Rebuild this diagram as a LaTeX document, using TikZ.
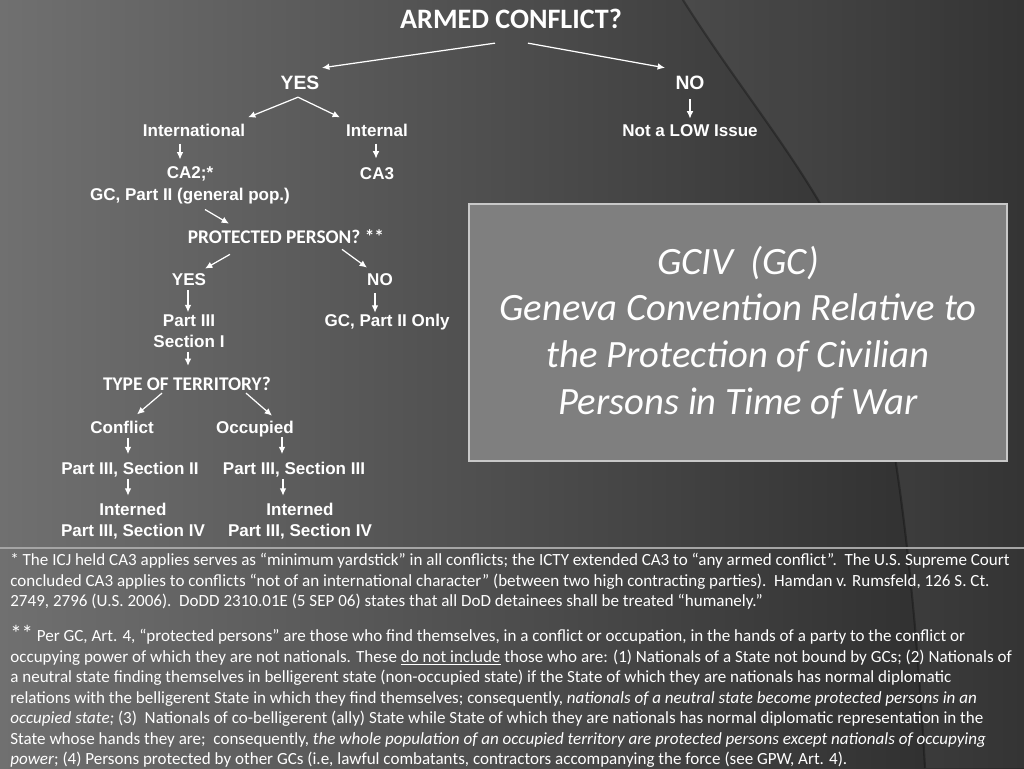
\documentclass[tikz,border=0pt]{standalone}
\usepackage{fontspec}
\setmainfont{Carlito}
\newfontfamily\lsans{Liberation Sans}
\usetikzlibrary{arrows.meta}
\definecolor{bgleft}{RGB}{112,112,112}
\definecolor{bgright}{RGB}{42,42,42}
\definecolor{boxfill}{RGB}{127,127,127}
\definecolor{boxline}{RGB}{200,200,200}
\definecolor{ruleline}{RGB}{165,165,165}

\begin{document}
\begin{tikzpicture}[x=0.02cm, y=-0.02cm,
    lbl/.style={text=white, inner sep=0pt, align=center,
        font=\lsans\bfseries\fontsize{9.7}{11.9}\selectfont},
    yesno/.style={text=white, inner sep=0pt,
        font=\lsans\bfseries\fontsize{11}{13}\selectfont},
    question/.style={text=white, inner sep=0pt,
        font=\bfseries\fontsize{11}{13}\selectfont},
    arr/.style={white, line width=0.7pt, -{Latex[length=4.2pt,width=3.8pt]}},
    note/.style={text=white, inner sep=0pt, align=left, anchor=north west,
        font=\fontsize{9.7}{11.7}\selectfont}
]
    \useasboundingbox (0,0) rectangle (1024,768);

    % background
    \shade[left color=bgleft, right color=bgright] (0,0) rectangle (1024,768);
    \fill[white, opacity=0.05] (683,0) .. controls (740,90) and (800,160) .. (840,240)
        .. controls (880,330) and (910,500) .. (925,768)
        -- (1024,768) -- (1024,0) -- cycle;
    \draw[black, opacity=0.3, line width=1.2pt] (683,0) .. controls (740,90) and (800,160) .. (840,240)
        .. controls (880,330) and (910,500) .. (925,768);
    \draw[ruleline, line width=1pt] (0,548) -- (1024,548);

    % top of the tree
    \node[text=white, inner sep=0pt, font=\bfseries\fontsize{16}{19}\selectfont] (armed) at (511,19) {ARMED CONFLICT?};
    \node[yesno] (yes1) at (300,83) {YES};
    \node[yesno] (no1) at (690,83) {NO};
    \node[lbl] (nolow) at (690,131) {Not a LOW Issue};
    \node[lbl] (intl) at (194,130) {International};
    \node[lbl] (intn) at (377,130) {Internal};
    \node[lbl] (ca2) at (190,185.5) {CA2;*\\[0.5pt]GC, Part II (general pop.)};
    \node[lbl] (ca3) at (377,174) {CA3};

    % protected person
    \node[question] (prot) at (286,237) {PROTECTED PERSON? **};
    \node[lbl] (yes2) at (189,280) {YES};
    \node[lbl] (no2) at (380,280) {NO};
    \node[lbl] (sec1) at (189,331) {Part III\\Section I};
    \node[lbl] (only) at (387,322) {GC, Part II Only};

    % territory
    \node[question] (terr) at (187,384) {TYPE OF TERRITORY?};
    \node[lbl] (confl) at (122,427) {Conflict};
    \node[lbl] (occ) at (255,429) {Occupied};
    \node[lbl] (sec2) at (130,470) {Part III, Section II};
    \node[lbl] (sec3) at (294,470) {Part III, Section III};
    \node[lbl] (int1) at (133,521) {Interned\\Part III, Section IV};
    \node[lbl] (int2) at (300,521) {Interned\\Part III, Section IV};

    % arrows
    \draw[arr] ([shift={(-16,14)}]armed.south) -- ([shift={(22,-8)}]yes1.north);
    \draw[arr] ([shift={(17,14)}]armed.south) -- ([shift={(-25,-8)}]no1.north);
    \draw[arr] ([shift={(0,9)}]no1.south) -- ([shift={(0,-6)}]nolow.north);
    \draw[arr] ([shift={(-2,7)}]yes1.south) -- ([shift={(54,-6)}]intl.north);
    \draw[arr] ([shift={(-2,7)}]yes1.south) -- ([shift={(-37,-6)}]intn.north);
    \draw[arr] ([shift={(-14,7)}]intl.south) -- ([shift={(-10,-7)}]ca2.north);
    \draw[arr] ([shift={(-1,7)}]intn.south) -- ([shift={(-1,-9)}]ca3.north);
    \draw[arr] ([shift={(15,5)}]ca2.south) -- ([shift={(-57,-6)}]prot.north);
    \draw[arr] ([shift={(-56,10)}]prot.south) -- ([shift={(16,-5)}]yes2.north);
    \draw[arr] ([shift={(56,5)}]prot.south) -- ([shift={(-13,-6)}]no2.north);
    \draw[arr] ([shift={(-1,4)}]yes2.south) -- ([shift={(-1,-2)}]sec1.north);
    \draw[arr] ([shift={(-5,7)}]no2.south) -- ([shift={(-12,-1)}]only.north);
    \draw[arr] ([shift={(-1,4)}]sec1.south) -- ([shift={(1,-11)}]terr.north);
    \draw[arr] ([shift={(-25,2)}]terr.south) -- ([shift={(15,-6)}]confl.north);
    \draw[arr] ([shift={(59,2)}]terr.south) -- ([shift={(17,-5)}]occ.north);
    \draw[arr] ([shift={(6,4)}]confl.south) -- ([shift={(-2,-8)}]sec2.north);
    \draw[arr] ([shift={(27,0)}]occ.south) -- ([shift={(-12,-8)}]sec3.north);
    \draw[arr] ([shift={(-2,1)}]sec2.south) -- ([shift={(-5,-7)}]int1.north);
    \draw[arr] ([shift={(-11,1)}]sec3.south) -- ([shift={(-17,-7)}]int2.north);

    % title box
    \node[fill=boxfill, draw=boxline, line width=1pt, text=white, align=center,
        minimum width=10.76cm, minimum height=5.14cm,
        font=\itshape\fontsize{22}{26.6}\selectfont] (gciv) at (738,332.5)
        {GCIV~~(GC)\\Geneva Convention Relative to\\the Protection of Civilian\\Persons in Time of War};

    % footnotes
    \node[note] (fn1) at (10,553) {* The ICJ held CA3 applies serves as “minimum yardstick” in all conflicts; the ICTY extended CA3 to “any armed conflict”.~~The U.S. Supreme Court\\
        concluded CA3 applies to conflicts “not of an international character” (between two high contracting parties).~~Hamdan v. Rumsfeld, 126 S. Ct.\\
        2749, 2796 (U.S. 2006).~~DoDD 2310.01E (5 SEP 06) states that all DoD detainees shall be treated “humanely.”};
    \node[note] (fn2) at (10,625) {{\fontsize{13}{11.7}\selectfont **} Per GC, Art. 4, “protected persons” are those who find themselves, in a conflict or occupation, in the hands of a party to the conflict or\\
        occupying power of which they are not nationals. These \underline{do not include} those who are: (1) Nationals of a State not bound by GCs; (2) Nationals of\\
        a neutral state finding themselves in belligerent state (non-occupied state) if the State of which they are nationals has normal diplomatic\\
        relations with the belligerent State in which they find themselves; consequently, \textit{nationals of a neutral state become protected persons in an}\\
        \textit{occupied state;} (3)~~Nationals of co-belligerent (ally) State while State of which they are nationals has normal diplomatic representation in the\\
        State whose hands they are;~~consequently, \textit{the whole population of an occupied territory are protected persons except nationals of occupying}\\
        \textit{power}; (4) Persons protected by other GCs (i.e, lawful combatants, contractors accompanying the force (see GPW, Art. 4).};
\end{tikzpicture}
\end{document}
